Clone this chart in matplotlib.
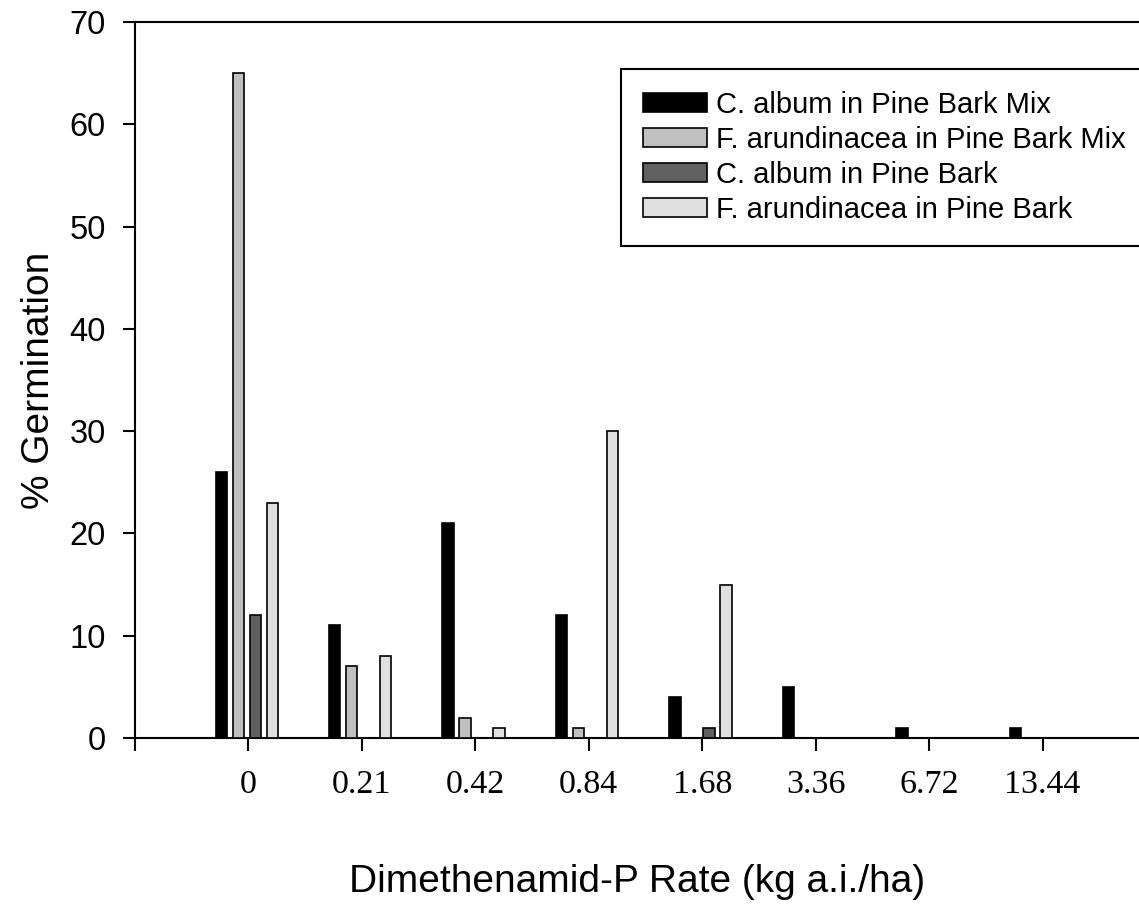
import numpy as np
import matplotlib.pyplot as plt
from matplotlib.patches import Patch

rates = ["0", "0.21", "0.42", "0.84", "1.68", "3.36", "6.72", "13.44"]
series_names = ["C. album in Pine Bark Mix", "F. arundinacea in Pine Bark Mix",
                "C. album in Pine Bark", "F. arundinacea in Pine Bark"]
calbum_mix = [26, 11, 21, 12, 4, 5, 1, 1]
farund_mix = [65, 7, 2, 1, 0, 0, 0, 0]
calbum_bark = [12, 0, 0, 0, 1, 0, 0, 0]
farund_bark = [23, 8, 1, 30, 15, 0, 0, 0]

colors = ["#000000", "#c0c0c0", "#606060", "#e0e0e0"]
offsets = [-0.24, -0.09, 0.06, 0.21]

fig = plt.figure(figsize=(11.39, 9.22), dpi=100)
ax = fig.add_axes([0.1185, 0.1996, 0.8815, 0.7765])

x = np.arange(len(rates))
for vals, c, off in zip([calbum_mix, farund_mix, calbum_bark, farund_bark], colors, offsets):
    v = np.array(vals, dtype=float)
    m = v > 0
    ax.bar(x[m] + off, v[m], width=0.1, color=c, edgecolor="black", linewidth=1.2, zorder=3)

ax.set_xlim(-1, 7.85)
ax.set_ylim(0, 70)
ax.set_xticks(np.arange(-1, 8))
ax.set_xticklabels([""] + rates, family="Liberation Serif", fontsize=24.5)
ax.set_yticks(np.arange(0, 71, 10))
ax.set_yticklabels([str(v) for v in range(0, 71, 10)], family="Liberation Sans", fontsize=23.5)
ax.tick_params(axis="x", length=9, width=1.5, pad=14, direction="out")
ax.tick_params(axis="y", length=9, width=1.5, pad=12, direction="out")
ax.spines["right"].set_visible(False)
for s in ["left", "bottom", "top"]:
    ax.spines[s].set_linewidth(1.5)

ax.set_ylabel("% Germination", family="Liberation Sans", fontsize=28, labelpad=9)
ax.set_xlabel("Dimethenamid-P Rate (kg a.i./ha)", family="Liberation Sans", fontsize=28, labelpad=46)

handles = [Patch(facecolor=c, edgecolor="black", linewidth=1.2) for c in colors]
leg = ax.legend(handles, series_names, loc="upper left", bbox_to_anchor=(621 / 1139, 1 - 69 / 922),
                bbox_transform=fig.transFigure, fancybox=False, framealpha=1, edgecolor="black",
                prop={"family": "Liberation Sans", "size": 21}, handlelength=2.2, handleheight=0.65,
                labelspacing=0.24, borderpad=0.75, borderaxespad=0, handletextpad=0.3)
leg.get_frame().set_linewidth(1.5)
leg.set_zorder(5)

fig.savefig("out.png", dpi=100)
